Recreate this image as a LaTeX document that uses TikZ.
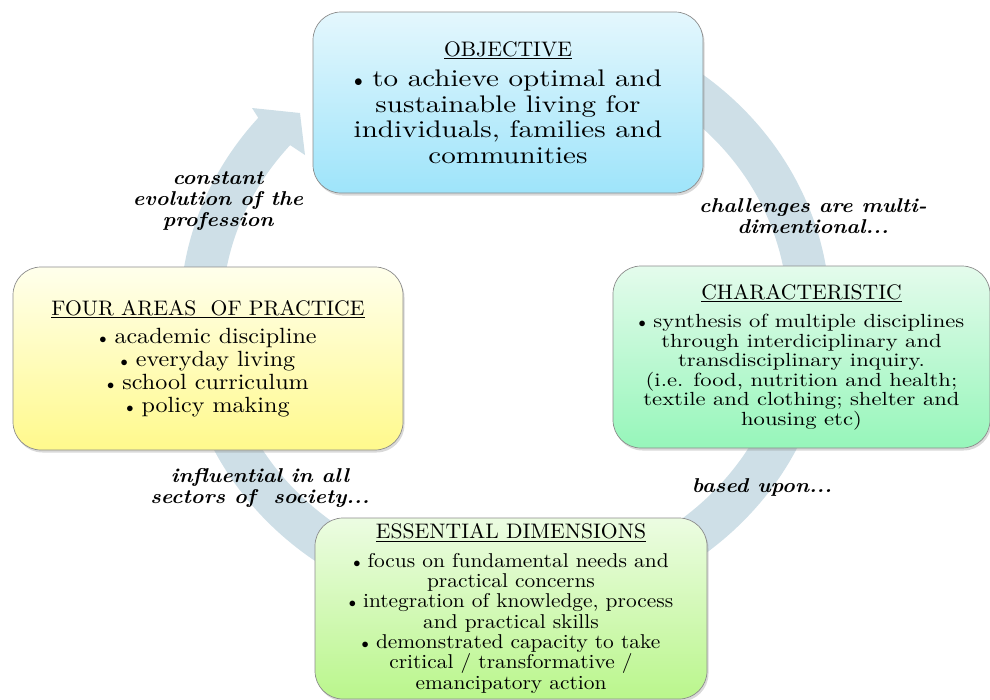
\documentclass[tikz,border=0pt]{standalone}
\usepackage{fontspec}
\usetikzlibrary{calc,positioning,shadows}
\newfontfamily\titlefont{lmroman10-regular.otf}[FakeStretch=1.03]
\newfontfamily\objfont{lmroman10-regular.otf}[FakeStretch=1.21]
\newfontfamily\charfont{lmroman10-regular.otf}[FakeStretch=1.19]
\newfontfamily\fourfont{lmroman10-regular.otf}[FakeStretch=1.095]
\newfontfamily\essfont{lmroman10-regular.otf}[FakeStretch=1.07]
\newfontfamily\tagfont{lmroman10-bolditalic.otf}[FakeStretch=1.08]
\definecolor{ringblue}{RGB}{206,223,231}
\definecolor{objtop}{RGB}{228,247,253}
\definecolor{objbot}{RGB}{158,228,250}
\definecolor{chartop}{RGB}{228,251,236}
\definecolor{charbot}{RGB}{150,246,186}
\definecolor{fourtop}{RGB}{255,255,236}
\definecolor{fourbot}{RGB}{255,249,140}
\definecolor{esstop}{RGB}{236,252,226}
\definecolor{essbot}{RGB}{186,246,140}
\newcommand\itembul{$\scriptstyle\bullet$\ }
\newcommand\boxtitle[1]{{\titlefont\fontsize{21}{23}\selectfont\underline{#1}}}

\begin{document}
\begin{tikzpicture}[x=1pt,y=-1pt,
  box/.style = {rectangle, rounded corners=28pt, draw=black!45, line width=0.7pt, align=center, inner sep=0pt,
                drop shadow={shadow xshift=1.5pt, shadow yshift=-2.5pt, opacity=0.3}},
  tag/.style = {align=center, font=\tagfont\fontsize{20}{21}\selectfont},]
\useasboundingbox (0,0) rectangle (990,699);
% circular arrow behind the boxes
\coordinate (M) at (505,315);
\fill[ringblue] (M) ++(-80:325 and 303) arc[start angle=-80, end angle=220.6, x radius=325, y radius=303]
  -- (252,108) -- (300,113) -- (305,155)
  -- ($(M)+(220.6:283 and 261)$) arc[start angle=220.6, end angle=-80, x radius=283, y radius=261] -- cycle;
% the four boxes
\node (O) at (508,102.5)[box, minimum width=390pt, minimum height=181pt, top color=objtop, bottom color=objbot,
  font=\objfont\fontsize{24}{25.5}\selectfont]
  {\boxtitle{OBJECTIVE}\\[5pt] \itembul to achieve optimal and\\ sustainable living for\\ individuals, families and\\ communities};
\node (C) at (801.5,357)[box, minimum width=377pt, minimum height=182pt, top color=chartop, bottom color=charbot,
  font=\charfont\fontsize{19}{19.5}\selectfont]
  {\boxtitle{CHARACTERISTIC}\\[9pt] \itembul synthesis of multiple disciplines\\ through interdiciplinary and\\ transdisciplinary inquiry.\\ (i.e. food, nutrition and health;\\ textile and clothing; shelter and\\ housing etc)};
\node (E) at (511,608.5)[box, minimum width=392pt, minimum height=181pt, top color=esstop, bottom color=essbot,
  font=\essfont\fontsize{20}{20.3}\selectfont]
  {\boxtitle{ESSENTIAL DIMENSIONS}\\[8pt] \itembul focus on fundamental needs and\\ practical concerns\\ \itembul integration of knowledge, process\\ and practical skills\\ \itembul demonstrated capacity to take\\ critical / transformative /\\ emancipatory action};
\node (F) at (208,358.5)[box, minimum width=390pt, minimum height=183pt, top color=fourtop, bottom color=fourbot,
  font=\fourfont\fontsize{22}{23}\selectfont]
  {\boxtitle{FOUR AREAS~ OF PRACTICE}\\[5pt] \itembul academic discipline\\ \itembul everyday living\\ \itembul school curriculum\\ \itembul policy making};
% labels on the ring
\node (evo) at (218,201)[tag] {constant\\ evolution of the\\ profession};
\node (chal) at (813,216)[tag] {challenges are multi-\\ dimentional...};
\node (based) at (762,487)[tag] {based upon...};
\node (infl) at (260,488)[tag] {influential in all\\ sectors of~ society...};
\end{tikzpicture}
\end{document}
